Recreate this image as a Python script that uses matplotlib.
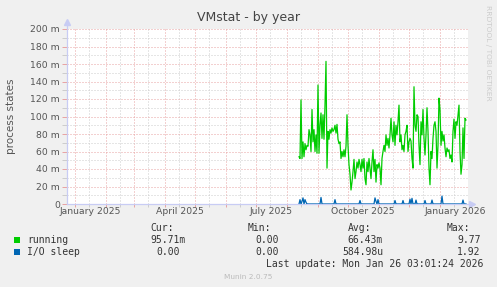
import numpy as np
import pandas as pd
import matplotlib
matplotlib.use('Agg')
import matplotlib.pyplot as plt
import matplotlib.dates as mdates
from matplotlib.patches import Rectangle

# Valeurs (unité : milli)
running_start = '2025-08-13'
running = [54, 52, 119, 52, 71, 54, 69, 62, 67, 66, 85, 79, 60, 108, 71, 85, 60, 79, 58, 136,
           58, 90, 104, 75, 102, 74, 113, 163, 41, 83, 74, 85, 81, 87, 83, 85, 90, 81, 91, 74,
           69, 71, 52, 60, 54, 62, 54, 66, 102, 67, 45, 34, 16, 25, 37,
           51, 29, 37, 48, 41, 51, 45, 37, 51, 41, 52, 29, 22, 48, 37, 52, 41, 29, 48, 62,
           37, 51, 25, 45, 41, 47, 41, 22, 52, 60, 67, 60, 79, 67, 75, 64, 79, 98, 79, 71,
           94, 67, 90, 79, 94, 113, 71, 79, 62, 67, 60, 79, 83, 90, 60, 71,
           75, 72, 52, 41, 134, 90, 83, 102, 100, 67, 45, 94, 79, 108, 75, 56, 79, 110, 83, 41,
           22, 60, 52, 75, 90, 94, 83, 41, 67, 121, 108, 67, 83, 72, 79, 64, 54, 64, 60, 62,
           52, 56, 48, 83, 97, 75, 94, 90, 102, 113, 60, 34, 45, 87, 52, 98, 96]

iosleep_dates = ['2025-08-14', '2025-08-16', '2025-08-17', '2025-08-19', '2025-08-20',
                 '2025-09-04', '2025-09-18', '2025-10-13', '2025-10-28', '2025-10-29',
                 '2025-10-31', '2025-11-17', '2025-11-25', '2025-12-02', '2025-12-04',
                 '2025-12-08', '2025-12-17', '2025-12-24', '2026-01-03', '2026-01-24']
iosleep_vals = [5, 3, 7, 5, 2, 7.5, 5, 4, 7, 3, 5, 4, 4, 5.5, 6.5, 4.5, 4, 4.5, 9, 4.5]

y_ticks = [0, 20, 40, 60, 80, 100, 120, 140, 160, 180, 200]
x_labels = ['January 2025', 'April 2025', 'July 2025', 'October 2025', 'January 2026']
x_label_dates = ['2025-01-16', '2025-04-16', '2025-07-16', '2025-10-16', '2026-01-16']

legend_names = ['running', 'I/O sleep']
legend_colors = ['#00CC00', '#0066B3']
cur = ['95.71m', '0.00']
mins = ['0.00', '0.00']
avg = ['66.43m', '584.98u']
maxs = ['9.77', '1.92']


W, H = 497, 287
def fx(x):
    return x / W
def fy(y):
    return 1 - y / H

red_grid = '#E8A2A2'
gray_grid = '#CCCCCC'
axis_col = '#C8CCF4'
txt = '#555555'

fig = plt.figure(figsize=(W / 100, H / 100), dpi=100, facecolor='#F0F0F0')
ax = fig.add_axes([fx(67), fy(204), 401 / W, 175 / H])
ax.set_facecolor('white')

start = pd.Timestamp(running_start)
dates = pd.date_range(start, periods=len(running), freq='D')
x = mdates.date2num(dates.to_pydatetime())

iosleep = np.zeros(len(running))
for d, v in zip(iosleep_dates, iosleep_vals):
    iosleep[(pd.Timestamp(d) - start).days] = v

ax.plot(x, running, color=legend_colors[0], lw=0.9, zorder=3)
ax.plot(x, iosleep, color=legend_colors[1], lw=0.9, zorder=4)

ax.set_xlim(mdates.date2num(pd.Timestamp('2024-12-24')), mdates.date2num(pd.Timestamp('2026-01-29')))
ax.set_ylim(0, 200)

# grille
months = pd.date_range('2025-01-01', '2026-01-01', freq='MS')
mids = months + pd.Timedelta(days=14)
ax.set_xticks(mdates.date2num(months.to_pydatetime()))
ax.set_xticks(mdates.date2num(mids.to_pydatetime()), minor=True)
ax.set_xticklabels([])
ax.set_yticks(y_ticks)
ax.set_yticks([v + 10 for v in y_ticks[:-1]], minor=True)
ax.set_yticklabels(['0' if v == 0 else '%d m' % v for v in y_ticks], fontsize=6.7, color=txt)

ax.grid(which='major', color=red_grid, lw=0.72, linestyle=(0, (1, 2)), zorder=1)
ax.grid(which='minor', color=gray_grid, lw=0.72, linestyle=(0, (1, 2)), zorder=1)
ax.set_axisbelow(True)

ax.tick_params(axis='y', which='major', direction='out', length=3.5, width=0.7, color=red_grid, pad=1.5)
ax.tick_params(axis='y', which='minor', direction='out', length=3.5, width=0.7, color=gray_grid)
ax.tick_params(axis='x', which='major', direction='out', length=2.2, width=0.7, color=red_grid)
ax.tick_params(axis='x', which='minor', direction='out', length=2.2, width=0.7, color=gray_grid)

for s in ax.spines.values():
    s.set_visible(False)

# axes avec flèches
ax.plot([0, 0], [0, 1.04], color=axis_col, lw=0.9, transform=ax.transAxes, clip_on=False, zorder=2)
ax.plot([0, 1.01], [0, 0], color=axis_col, lw=0.9, transform=ax.transAxes, clip_on=False, zorder=2)
ax.plot([0], [1.04], marker='^', ms=4, color=axis_col, transform=ax.transAxes, clip_on=False)
ax.plot([1.01], [0], marker='>', ms=4, color=axis_col, transform=ax.transAxes, clip_on=False)

for lab, d in zip(x_labels, x_label_dates):
    ax.text(mdates.date2num(pd.Timestamp(d)), -7.5 / 175, lab, transform=ax.get_xaxis_transform(),
            ha='center', va='center', fontsize=6.7, color=txt)

# textes
fig.text(fx(249), fy(18), 'VMstat - by year', ha='center', va='center', fontsize=9, color='#444444')
fig.text(fx(11), fy(116), 'process states', rotation=90, ha='center', va='center', fontsize=7.5, color=txt)
fig.text(fx(488), fy(5), 'RRDTOOL / TOBI OETIKER', rotation=270, ha='center', va='top',
         fontsize=5.4, color='#CCCCCC')

mono = dict(family='DejaVu Sans Mono', fontsize=7, color='#333333', va='center', ha='left')
fig.text(fx(150), fy(228), 'Cur:', **mono)
fig.text(fx(248), fy(228), 'Min:', **mono)
fig.text(fx(348), fy(228), 'Avg:', **mono)
fig.text(fx(447), fy(228), 'Max:', **mono)

row_y = [240, 252]
cur_x = [150, 156]
avg_x = [347, 342]
for i in range(2):
    fig.patches.append(Rectangle((fx(14), fy(row_y[i] + 3)), 6 / W, 6 / H, transform=fig.transFigure,
                                 facecolor=legend_colors[i], edgecolor='none'))
    fig.text(fx(27), fy(row_y[i]), legend_names[i], **mono)
    fig.text(fx(cur_x[i]), fy(row_y[i]), cur[i], **mono)
    fig.text(fx(255), fy(row_y[i]), mins[i], **mono)
    fig.text(fx(avg_x[i]), fy(row_y[i]), avg[i], **mono)
    fig.text(fx(457), fy(row_y[i]), maxs[i], **mono)

fig.text(fx(483), fy(264), 'Last update: Mon Jan 26 03:01:24 2026',
         **dict(mono, ha='right'))
fig.text(fx(248), fy(277), 'Munin 2.0.75', ha='center', va='center', fontsize=5.3, color='#BBBBBB')

fig.savefig('out.png', dpi=100, facecolor=fig.get_facecolor())
